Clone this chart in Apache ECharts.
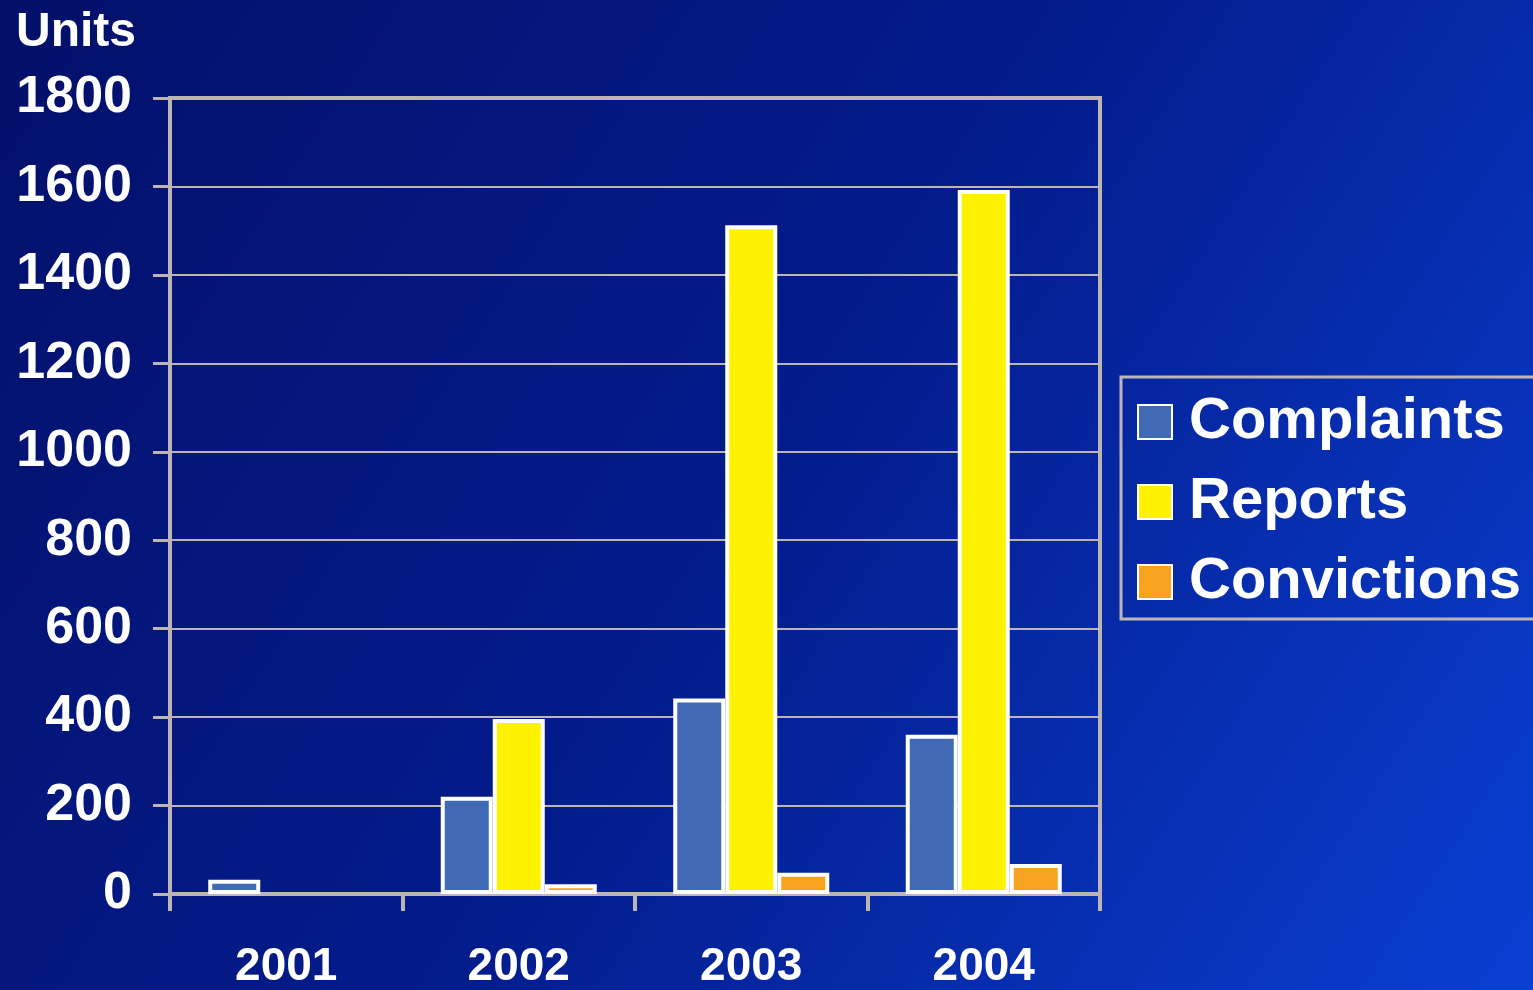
<!DOCTYPE html>
<html>
<head>
<meta charset="utf-8">
<script src="https://cdn.jsdelivr.net/npm/echarts@6/dist/echarts.min.js"></script>
<style>
html,body{margin:0;padding:0;width:1533px;height:990px;overflow:hidden;}
#chart{width:1533px;height:990px;}
</style>
</head>
<body>
<div id="chart"></div>
<script>
const categories = ['2001', '2002', '2003', '2004'];
const complaints = [32, 220, 442, 360];
const reports = [null, 396, 1512, 1592];
const convictions = [null, 22, 48, 68];
const yTicks = { min: 0, max: 1800, interval: 200 };

const chart = echarts.init(document.getElementById('chart'), null, { renderer: 'canvas' });
const gray = '#bdb5b5';
const font = '"Liberation Sans", Arial, Helvetica, sans-serif';

const barStyle = (color) => ({ color: color, borderColor: '#ffffff', borderWidth: 4 });

chart.setOption({
  backgroundColor: new echarts.graphic.LinearGradient(0, 0, 1, 1, [
    { offset: 0, color: '#03106a' },
    { offset: 0.5, color: '#031c8c' },
    { offset: 1, color: '#0a3fd2' }
  ]),
  animation: false,
  title: {
    text: 'Units',
    left: 11,
    top: 4,
    textStyle: { color: '#ffffff', fontSize: 48, fontWeight: 'bold', fontFamily: font }
  },
  legend: {
    orient: 'vertical',
    left: 1121,
    top: 377,
    padding: [16, 30, 8, 16],
    itemGap: 22,
    itemWidth: 34,
    itemHeight: 34,
    icon: 'rect',
    borderColor: gray,
    borderWidth: 3,
    textStyle: { color: '#ffffff', fontSize: 58, fontWeight: 'bold', fontFamily: font, lineHeight: 58, padding: [0, 0, 0, 12] },
    data: ['Complaints', 'Reports', 'Convictions']
  },
  grid: {
    left: 170, top: 98, right: 433, bottom: 94,
    show: true, borderColor: gray, borderWidth: 4, backgroundColor: 'transparent'
  },
  xAxis: {
    type: 'category',
    data: categories,
    axisLine: { lineStyle: { color: gray, width: 4 } },
    axisTick: { show: true, length: 17, lineStyle: { color: gray, width: 4 } },
    axisLabel: { color: '#ffffff', fontSize: 46, fontWeight: 'bold', fontFamily: font, margin: 50 }
  },
  yAxis: {
    type: 'value',
    min: yTicks.min, max: yTicks.max, interval: yTicks.interval,
    axisLine: { show: true, lineStyle: { color: gray, width: 4 } },
    axisTick: { show: true, length: 17, lineStyle: { color: gray, width: 3 } },
    splitLine: { lineStyle: { color: gray, width: 2 } },
    axisLabel: { color: '#ffffff', fontSize: 52, fontWeight: 'bold', fontFamily: font, margin: 38, formatter: (v) => String(v) }
  },
  series: [
    { name: 'Complaints', type: 'bar', data: complaints, barWidth: 52, barGap: '0%', itemStyle: barStyle('#416ab4') },
    { name: 'Reports', type: 'bar', data: reports, barWidth: 52, barGap: '0%', itemStyle: barStyle('#fff200') },
    { name: 'Convictions', type: 'bar', data: convictions, barWidth: 52, barGap: '0%', itemStyle: barStyle('#f7a31f') }
  ]
});
</script>
</body>
</html>
